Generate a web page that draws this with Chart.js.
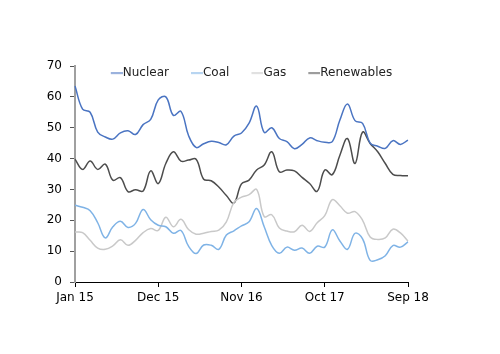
<!DOCTYPE html>
<html>
<head>
<meta charset="utf-8">
<script src="https://cdn.jsdelivr.net/npm/chart.js@4/dist/chart.umd.min.js"></script>
<style>
  body { margin: 0; background: #fff; }
</style>
</head>
<body>
<canvas id="energyMix" width="500" height="354"></canvas>
<script>
var monthNames = ["Jan", "Feb", "Mar", "Apr", "May", "Jun", "Jul", "Aug", "Sep", "Oct", "Nov", "Dec"];
var months = [];
for (var y = 15; y <= 18; y++) {
    for (var m = 0; m < 12; m++) {
        if (y === 18 && m > 8) break;
        months.push(monthNames[m] + " " + y);
    }
}

var nuclear = [63.5, 56, 55, 48.6, 47, 46.3, 48.3, 49, 47.8, 51, 52.7, 59, 60, 54, 55.3, 47.5, 43.6, 44.8, 45.6, 45.2,
    44.5, 47.3, 48.3, 51.5, 57, 48.5, 50, 46.5, 45.5, 43.2, 44.6, 46.7, 45.8, 45.3, 45.5, 52.5, 57.7, 52.3, 51.4, 45,
    44, 43.3, 45.8, 44.6, 46];
var coal = [24.9, 24.2, 23.1, 19.2, 14.3, 17.9, 19.7, 17.7, 19, 23.5, 20.2, 18.4, 17.9, 15.8, 16.7, 11.6, 9.2, 12, 11.9, 10.6,
    15.2, 16.6, 18.2, 19.5, 23.8, 17.9, 11.8, 9.3, 11.3, 10.3, 11, 9.3, 11.6, 11.3, 16.9, 13.3, 10.6, 15.8, 14, 7,
    7.2, 8.5, 11.8, 11.3, 13];
var gas = [16.2, 16, 13.5, 11, 10.6, 11.7, 13.7, 11.9, 13.5, 16, 17.3, 16.7, 21, 17.9, 20.3, 17, 15.5, 15.8, 16.4, 16.8,
    19.5, 25.8, 27.5, 28.3, 30, 21.2, 21.8, 17.5, 16.5, 16.3, 18.4, 16.4, 19.2, 21.5, 26.7, 24.7, 22.3, 22.8, 20, 14.6,
    13.8, 14.3, 17.1, 15.9, 13.2];
var renewables = [39.8, 36.5, 39.2, 36.5, 38.2, 33, 33.8, 29.3, 29.9, 29.5, 36, 31.9, 38.4, 42.2, 39.2, 39.5, 39.8, 33.3, 32.8, 30.8,
    28, 25.6, 31.8, 33, 36.3, 37.9, 42.2, 35.7, 36.3, 36, 33.9, 31.9, 29.4, 36.3, 34.8, 41.1, 46.5, 38.4, 48.6, 44.9,
    42.2, 38.4, 34.9, 34.5, 34.4];

var colors = ["#4a74c2", "#7fb3e6", "#c9c9c9", "#4d4d4d"];

// short dash for the legend, sitting right against the label text
function makeDash(color) {
    var c = document.createElement("canvas");
    c.width = 38;
    c.height = 3;
    var g = c.getContext("2d");
    g.strokeStyle = color;
    g.lineWidth = 1.2;
    g.beginPath();
    g.moveTo(26, 1.5);
    g.lineTo(38, 1.5);
    g.stroke();
    return c;
}
var dashes = colors.map(makeDash);

function series(label, values, color) {
    return {
        label: label,
        data: values,
        borderColor: color,
        backgroundColor: color,
        borderWidth: 1.5,
        pointRadius: 0,
        tension: 0.4,
        fill: false
    };
}

// the legend sits inside the top of the plot, like the original
var legendInside = {
    id: "legendInside",
    afterLayout: function (chart) {
        var lg = chart.legend;
        var h = lg.height;
        lg.top = chart.chartArea.top - 1;
        lg.bottom = lg.top + h;
    }
};

Chart.defaults.font.family = "'DejaVu Sans', sans-serif";
Chart.defaults.font.size = 12;
Chart.defaults.color = "#000";

var ctx = document.getElementById("energyMix");
var energyChart = new Chart(ctx, {
    type: "line",
    data: {
        labels: months,
        datasets: [
            series("Nuclear", nuclear, colors[0]),
            series("Coal", coal, colors[1]),
            series("Gas", gas, colors[2]),
            series("Renewables", renewables, colors[3])
        ]
    },
    plugins: [legendInside],
    options: {
        responsive: false,
        animation: false,
        events: [],
        layout: { padding: { left: 40, right: 92, top: 42, bottom: 42 } },
        plugins: {
            tooltip: { enabled: false },
            legend: {
                position: "top",
                fullSize: false,
                labels: {
                    usePointStyle: true,
                    pointStyleWidth: 26,
                    padding: 2,
                    color: "#222",
                    font: { size: 12 },
                    generateLabels: function (chart) {
                        var items = Chart.defaults.plugins.legend.labels.generateLabels(chart);
                        items.forEach(function (it, i) { it.pointStyle = dashes[i]; });
                        return items;
                    }
                }
            }
        },
        scales: {
            x: {
                offset: false,
                afterFit: function (scale) { scale.height = 30; },
                grid: {
                    drawOnChartArea: false,
                    tickLength: 5,
                    color: function (c) { return c.index % 11 === 0 ? "#000" : "rgba(0,0,0,0)"; }
                },
                border: { color: "#000", width: 1 },
                ticks: {
                    autoSkip: false,
                    maxRotation: 0,
                    padding: 4,
                    callback: function (val, i) { return i % 11 === 0 ? this.getLabelForValue(val) : ""; }
                }
            },
            y: {
                min: 0,
                max: 70,
                afterFit: function (scale) { scale.width = 35; },
                grid: { drawOnChartArea: false, tickLength: 5, color: "#555" },
                border: { color: "#a0a0a0", width: 2 },
                ticks: { stepSize: 10, padding: 8 }
            }
        }
    }
});
</script>
</body>
</html>
